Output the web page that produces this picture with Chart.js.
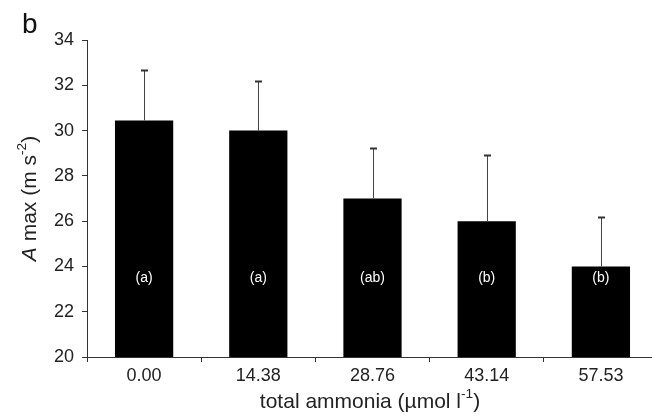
<!DOCTYPE html>
<html>
<head>
<meta charset="utf-8">
<script src="https://cdn.jsdelivr.net/npm/chart.js@4"></script>
<style>
  html, body { margin: 0; padding: 0; background: #fff; overflow: hidden; }
  #wrap { width: 652px; height: 417px; overflow: hidden; }
</style>
</head>
<body>
<div id="wrap"><canvas id="chart" width="658" height="417"></canvas></div>
<script>
const categories = ["0.00", "14.38", "28.76", "43.14", "57.53"];
const amax = [30.45, 30.0, 27.0, 26.0, 24.0];
const amaxErr = [2.22, 2.2, 2.25, 2.9, 2.2];
const groups = ["(a)", "(a)", "(ab)", "(b)", "(b)"];
const yTicks = [20, 22, 24, 26, 28, 30, 32, 34];

const FONT = "'Liberation Sans', Arial, sans-serif";
const INK = "#222";

// draws a list of [text, style] pieces; style: "i" italic, "sup" superscript
function richText(ctx, parts, x, y, size) {
  let w = 0;
  const fontOf = (s) => (s === "i" ? "italic " : "") + (s === "sup" ? size * 0.65 : size) + "px " + FONT;
  parts.forEach(([t, s]) => { ctx.font = fontOf(s); w += ctx.measureText(t).width; });
  let cx = x - w / 2;
  parts.forEach(([t, s]) => {
    ctx.font = fontOf(s);
    ctx.fillText(t, cx, s === "sup" ? y - size * 0.38 : y);
    cx += ctx.measureText(t).width;
  });
}

const extras = {
  id: "extras",
  afterDatasetsDraw(chart) {
    const { ctx, scales: { x, y } } = chart;
    const meta = chart.getDatasetMeta(0);
    ctx.save();
    // error bars, upper side only
    ctx.strokeStyle = "#444";
    ctx.lineWidth = 1;
    meta.data.forEach((bar, i) => {
      const px = Math.round(bar.x) + 0.5;
      const top = Math.round(y.getPixelForValue(amax[i] + amaxErr[i])) + 0.5;
      ctx.beginPath();
      ctx.moveTo(px, bar.y);
      ctx.lineTo(px, top);
      ctx.stroke();
      ctx.fillStyle = "#333";
      ctx.fillRect(px - 3.5, top - 1, 7, 2);
    });
    // group letters inside the bars
    ctx.fillStyle = "#fff";
    ctx.font = "14px " + FONT;
    ctx.textAlign = "center";
    ctx.textBaseline = "middle";
    meta.data.forEach((bar, i) => {
      ctx.fillText(groups[i], bar.x, y.getPixelForValue(23.5));
    });
    // axis titles
    ctx.fillStyle = INK;
    ctx.textBaseline = "middle";
    ctx.textAlign = "left";
    richText(ctx, [["total ammonia (\u00b5mol l", ""], ["-1", "sup"], [")", ""]], 370, 402, 21);
    ctx.translate(30, (chart.chartArea.top + chart.chartArea.bottom) / 2);
    ctx.rotate(-Math.PI / 2);
    richText(ctx, [["A", "i"], [" max (m s", ""], ["-2", "sup"], [")", ""]], 0, 0, 21);
    ctx.restore();
    // panel letter
    ctx.save();
    ctx.fillStyle = "#111";
    ctx.font = "28px " + FONT;
    ctx.textBaseline = "alphabetic";
    ctx.fillText("b", 22, 33);
    ctx.restore();
  }
};

new Chart(document.getElementById("chart"), {
  type: "bar",
  data: {
    labels: categories,
    datasets: [{
      data: amax,
      backgroundColor: "#000",
      borderWidth: 0,
      barPercentage: 0.51,
      categoryPercentage: 1.0
    }]
  },
  options: {
    responsive: false,
    animation: false,
    events: [],
    layout: { padding: { top: 40, right: 0, bottom: 0, left: 0 } },
    plugins: { legend: { display: false }, tooltip: { enabled: false } },
    scales: {
      x: {
        grid: { drawOnChartArea: false, drawTicks: true, tickLength: 5, color: "#333" },
        border: { color: "#333", width: 1 },
        ticks: { color: INK, font: { family: FONT, size: 18 }, padding: 3, maxRotation: 0 },
        afterFit(scale) { scale.height = 60; }
      },
      y: {
        min: 20,
        max: 34,
        afterBuildTicks(scale) { scale.ticks = yTicks.map(v => ({ value: v })); },
        grid: { drawOnChartArea: false, drawTicks: true, tickLength: 5, color: "#333" },
        border: { color: "#333", width: 1 },
        ticks: { color: INK, font: { family: FONT, size: 18 }, padding: 8 },
        afterFit(scale) { scale.width = 87; }
      }
    }
  },
  plugins: [extras]
});
</script>
</body>
</html>
